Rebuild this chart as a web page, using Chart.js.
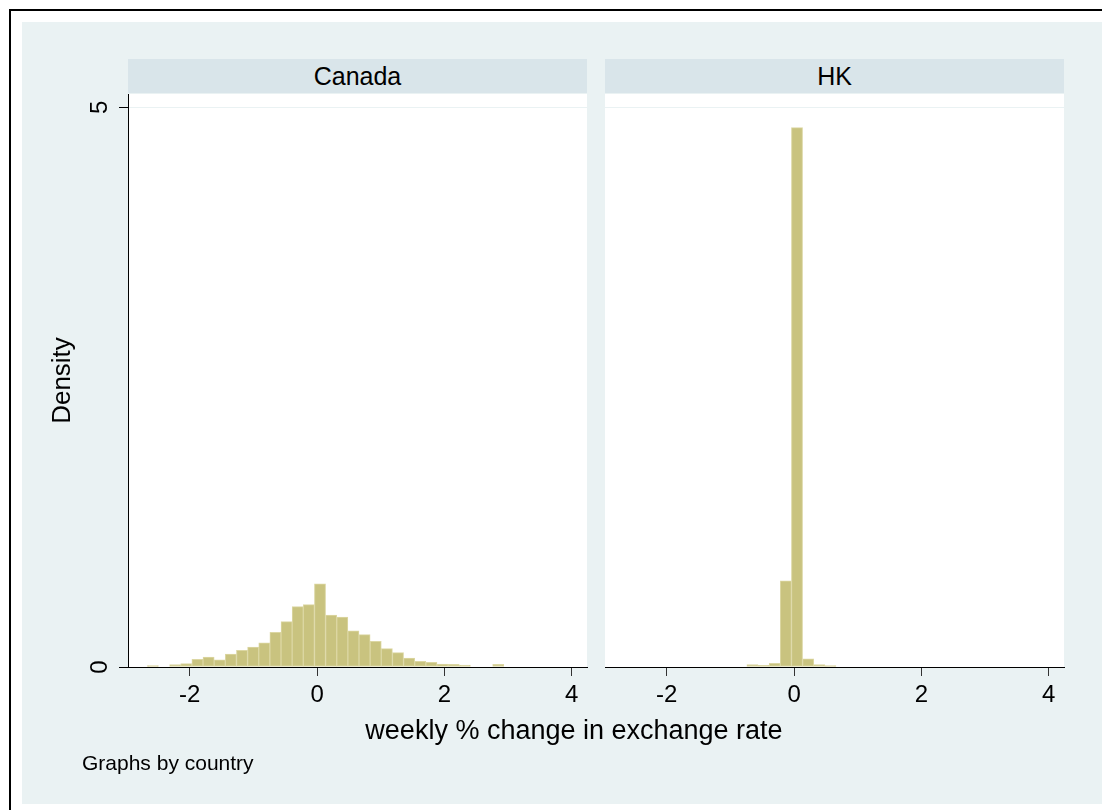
<!DOCTYPE html>
<html>
<head>
	<title>weekly % change in exchange rate</title>
	<script src="https://cdn.jsdelivr.net/npm/chart.js@4"></script>
	<style>
		body { margin: 0; width: 1102px; height: 810px; background: #fff; position: relative; overflow: hidden; font-family: 'Liberation Sans', Arial, sans-serif; }
		.abs { position: absolute; }
		#frame { left: 9px; top: 9px; width: 1200px; height: 900px; border-left: 2px solid #000; border-top: 2px solid #000; }
		#bg { left: 22px; top: 22px; width: 1100px; height: 782px; background: #eaf2f3; }
		.strip { top: 59px; height: 34px; background: #d9e5ea; font-size: 25px; line-height: 34px; text-align: center; color: #000; }
		.plotbg { top: 94px; height: 573px; background: #fff; }
		canvas { position: absolute; left: 0; top: 0; }
		#xtitle { left: 74px; width: 1000px; top: 715px; font-size: 27px; text-align: center; }
		#note { left: 82px; top: 751px; font-size: 21px; }
	</style>
</head>
<body>
	<div class="abs" id="frame"></div>
	<div class="abs" id="bg"></div>
	<div class="abs strip" style="left:128px;width:459px;">Canada</div>
	<div class="abs strip" style="left:605px;width:459px;">HK</div>
	<div class="abs plotbg" style="left:128px;width:459px;"></div>
	<div class="abs plotbg" style="left:605px;width:459px;"></div>
	<canvas id="canada" width="1102" height="810"></canvas>
	<canvas id="hk" width="1102" height="810"></canvas>
	<div class="abs" id="xtitle">weekly % change in exchange rate</div>
	<div class="abs" id="note">Graphs by country</div>

	<script type="text/javascript">

		// bin midpoints (weekly % change), shared by both panels
		var binCenters = [-2.579, -2.404, -2.229, -2.054, -1.879, -1.704, -1.529, -1.354, -1.179, -1.004,
			-0.829, -0.654, -0.479, -0.304, -0.129, 0.046, 0.221, 0.396, 0.571, 0.746,
			0.921, 1.096, 1.271, 1.446, 1.621, 1.796, 1.971, 2.146, 2.321, 2.496, 2.671, 2.846];

		var densityCanada = [0.012, 0, 0.021, 0.030, 0.068, 0.089, 0.063, 0.116, 0.149, 0.179,
			0.217, 0.310, 0.405, 0.539, 0.557, 0.744, 0.464, 0.446, 0.324, 0.289,
			0.229, 0.164, 0.128, 0.080, 0.051, 0.042, 0.027, 0.024, 0.018, 0, 0, 0.024];

		var densityHK = [0, 0, 0, 0, 0, 0, 0, 0, 0, 0,
			0, 0.021, 0.015, 0.033, 0.77, 4.82, 0.074, 0.021, 0.012, 0,
			0, 0, 0, 0, 0, 0, 0, 0, 0, 0, 0, 0];

		var xTicks = [-2, 0, 2, 4];
		var yTicks = [0, 5];

		Chart.defaults.font.family = "'Liberation Sans', Arial, sans-serif";
		Chart.defaults.color = '#000';

		function points(vals) {
			return binCenters.map(function(c, i) {
				return { x: c, y: vals[i] > 0 ? vals[i] : null };
			});
		}

		function makeChart(id, vals, first) {
			var config = {
				type: 'bar',
				data: {
					datasets: [{
						data: points(vals),
						backgroundColor: '#c9c37f',
						borderColor: '#dcd7a3',
						borderWidth: 1,
						borderSkipped: false,
						barPercentage: 1,
						categoryPercentage: 1
					}]
				},
				options: {
					responsive: false,
					animation: false,
					layout: {
						padding: first ? { left: 30, right: 515, top: 94, bottom: 98 }
						               : { left: 605, right: 38, top: 94, bottom: 98 }
					},
					plugins: { legend: { display: false }, tooltip: { enabled: false } },
					scales: {
						x: {
							type: 'linear',
							offset: false,
							min: -2.97,
							max: 4.24,
							afterBuildTicks: function(s) { s.ticks = xTicks.map(function(v) { return { value: v }; }); },
							afterFit: function(s) { s.height = 45; },
							grid: { offset: false, drawOnChartArea: false, tickLength: 9, tickColor: '#333' },
							border: { color: '#000', width: 1 },
							ticks: { font: { size: 24 }, padding: 5, maxRotation: 0 }
						},
						y: {
							min: 0,
							max: 5.12,
							afterBuildTicks: function(s) { s.ticks = yTicks.map(function(v) { return { value: v }; }); },
							afterFit: function(s) { s.width = first ? 98 : 0; },
							grid: { color: '#eaf2f3', drawTicks: first, tickLength: 9, tickColor: '#000' },
							border: { display: first, color: '#000', width: 1 },
							ticks: { display: first, font: { size: 24 }, minRotation: 90, maxRotation: 90, crossAlign: 'center', padding: 12 },
							title: { display: first, text: 'Density', font: { size: 26 }, padding: { top: 17 } }
						}
					}
				}
			};
			return new Chart(document.getElementById(id).getContext('2d'), config);
		}

		var chartCanada = makeChart('canada', densityCanada, true);
		var chartHK = makeChart('hk', densityHK, false);

	</script>
</body>
</html>
